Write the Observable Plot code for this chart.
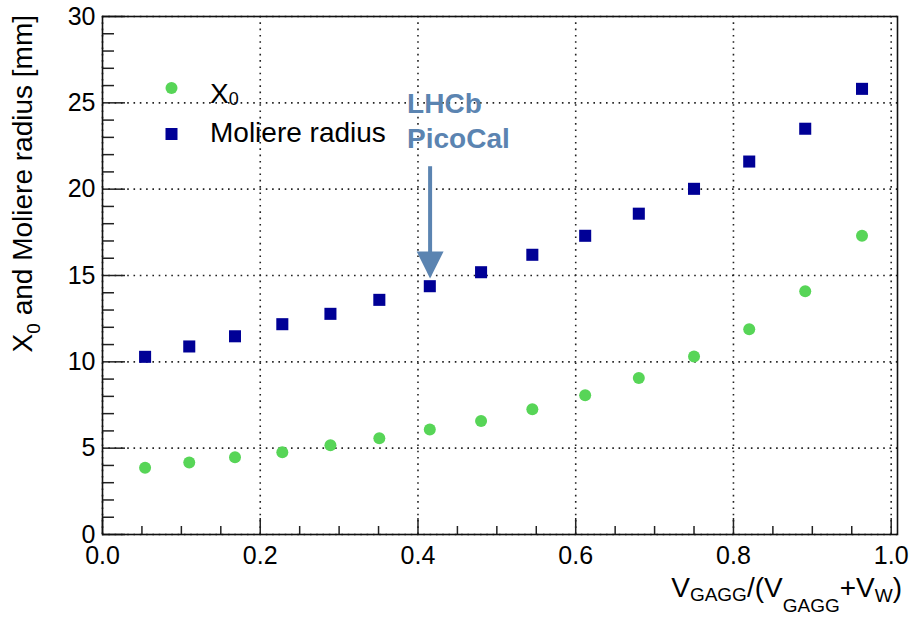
<!DOCTYPE html>
<html><head><meta charset="utf-8">
<script src="https://cdn.jsdelivr.net/npm/d3@7"></script>
<script src="https://cdn.jsdelivr.net/npm/@observablehq/plot@0.6"></script>
<style>
body{margin:0;background:#fff;}
svg text{font-family:"Liberation Sans",Arial,sans-serif;}
</style></head><body><div id="chart"></div>
<script>
// ---- data ----
const fraction = [0.054,0.110,0.168,0.228,0.289,0.351,0.415,0.480,0.545,0.612,0.680,0.750,0.820,0.891,0.963];
const x0Values = [3.86,4.17,4.48,4.77,5.17,5.58,6.08,6.58,7.26,8.07,9.07,10.31,11.89,14.09,17.30];
const moliereValues = [10.29,10.89,11.48,12.18,12.78,13.59,14.38,15.19,16.20,17.30,18.58,20.02,21.60,23.50,25.81];
const xMajorTicks = [0,0.2,0.4,0.6,0.8,1.0];
const xMinorTicks = [0.05,0.1,0.15,0.25,0.3,0.35,0.45,0.5,0.55,0.65,0.7,0.75,0.85,0.9,0.95];
const yMajorTicks = [0,5,10,15,20,25,30];
const yMinorTicks = [1,2,3,4,6,7,8,9,11,12,13,14,16,17,18,19,21,22,23,24,26,27,28,29];
const seriesNames = ["X0","Moliere radius"];
const annotationX = 0.416;           // LHCb PicoCal composition
const annotationArrowY = [21.3, 14.8]; // arrow start / tip (mm)
const annotationLines = ["LHCb","PicoCal"];

const rows = fraction.map((f,i)=>({f, x0:x0Values[i], mol:moliereValues[i]}));

const W=915, H=620, mL=102, mR=18, mT=16, mB=86;
const plotH = H-mT-mB, plotW = W-mL-mR;
const green="#57d557", navy="#000096", annot="#5b84b1";

const plot = Plot.plot({
  width:W, height:H, marginLeft:mL, marginRight:mR, marginTop:mT, marginBottom:mB,
  style:{fontFamily:"Liberation Sans, Arial, sans-serif", fontSize:"25px", color:"#000", background:"#fff"},
  x:{domain:[0,1.008]},
  y:{domain:[0,30]},
  marks:[
    Plot.gridX(xMajorTicks,{stroke:"#222", strokeOpacity:1, strokeWidth:1.6, strokeDasharray:"1.6,4.7"}),
    Plot.gridY(yMajorTicks,{stroke:"#222", strokeOpacity:1, strokeWidth:1.6, strokeDasharray:"1.6,4.7"}),
    Plot.tickX(xMajorTicks,{x:d=>d, insetTop:plotH-16, stroke:"#222", strokeWidth:1.5}),
    Plot.tickX(xMinorTicks,{x:d=>d, insetTop:plotH-8, stroke:"#222", strokeWidth:1.5}),
    Plot.tickY(yMajorTicks,{y:d=>d, insetRight:plotW-23, stroke:"#222", strokeWidth:1.5}),
    Plot.tickY(yMinorTicks,{y:d=>d, insetRight:plotW-12, stroke:"#222", strokeWidth:1.5}),
    Plot.axisX(xMajorTicks,{tickSize:0, tickPadding:12, tickFormat:d3.format(".1f"), label:null, fontSize:25}),
    Plot.axisY(yMajorTicks,{tickSize:0, tickPadding:7, label:null, fontSize:25}),
    Plot.frame({stroke:"#111", strokeWidth:1.6}),
    Plot.dot(rows,{x:"f", y:"x0", r:6, fill:green, symbol:"circle"}),
    Plot.dot(rows,{x:"f", y:"mol", r:6.8, fill:navy, symbol:"square"})
  ]
});
document.getElementById("chart").appendChild(plot);

const svg = d3.select(plot);
const sx = plot.scale("x"), sy = plot.scale("y");

// y-axis title
const yl = svg.append("text").attr("transform","translate(32,15) rotate(-90)")
  .attr("text-anchor","end").attr("font-size",28).attr("fill","#000");
yl.append("tspan").text("X");
yl.append("tspan").attr("font-size",19).attr("dy",8).text("0");
yl.append("tspan").attr("dy",-8).text(" and Moliere radius [mm]");

// x-axis title
const xl = svg.append("text").attr("x",902).attr("y",597)
  .attr("text-anchor","end").attr("font-size",28).attr("fill","#000");
xl.append("tspan").text("V");
xl.append("tspan").attr("font-size",19).attr("dy",4).text("GAGG");
xl.append("tspan").attr("dy",-4).text("/(V");
xl.append("tspan").attr("font-size",19).attr("dy",15).text("GAGG");
xl.append("tspan").attr("dy",-15).text("+V");
xl.append("tspan").attr("font-size",19).attr("dy",5).text("W");
xl.append("tspan").attr("dy",-5).text(")");

// legend
const leg = svg.append("g").attr("text-anchor","start");
leg.append("circle").attr("cx",171.5).attr("cy",88).attr("r",6).attr("fill",green);
leg.append("rect").attr("x",165.5).attr("y",128).attr("width",12).attr("height",12).attr("fill",navy);
const l1 = leg.append("text").attr("x",210).attr("y",103).attr("font-size",28).attr("fill","#000").attr("text-anchor","start");
l1.append("tspan").text("X");
l1.append("tspan").attr("font-size",18).attr("dy",2).text("0");
leg.append("text").attr("x",210).attr("y",142).attr("font-size",28).attr("fill","#000").attr("text-anchor","start").text(seriesNames[1]);

// annotation arrow
const ax = sx.apply(annotationX), yTop = sy.apply(annotationArrowY[0]), yTip = sy.apply(annotationArrowY[1]);
const headH = 27, headW = 27;
svg.append("line").attr("x1",ax).attr("x2",ax).attr("y1",yTop).attr("y2",yTip-headH+2)
  .attr("stroke",annot).attr("stroke-width",4);
svg.append("path").attr("d",`M${ax-headW/2},${yTip-headH} L${ax+headW/2},${yTip-headH} L${ax},${yTip} Z`).attr("fill",annot);
annotationLines.forEach((t,i)=>{
  svg.append("text").attr("x",ax-23).attr("y",113+35*i).attr("font-size",28)
    .attr("text-anchor","start").attr("font-weight","bold").attr("fill",annot).text(t);
});
</script>
</body></html>
